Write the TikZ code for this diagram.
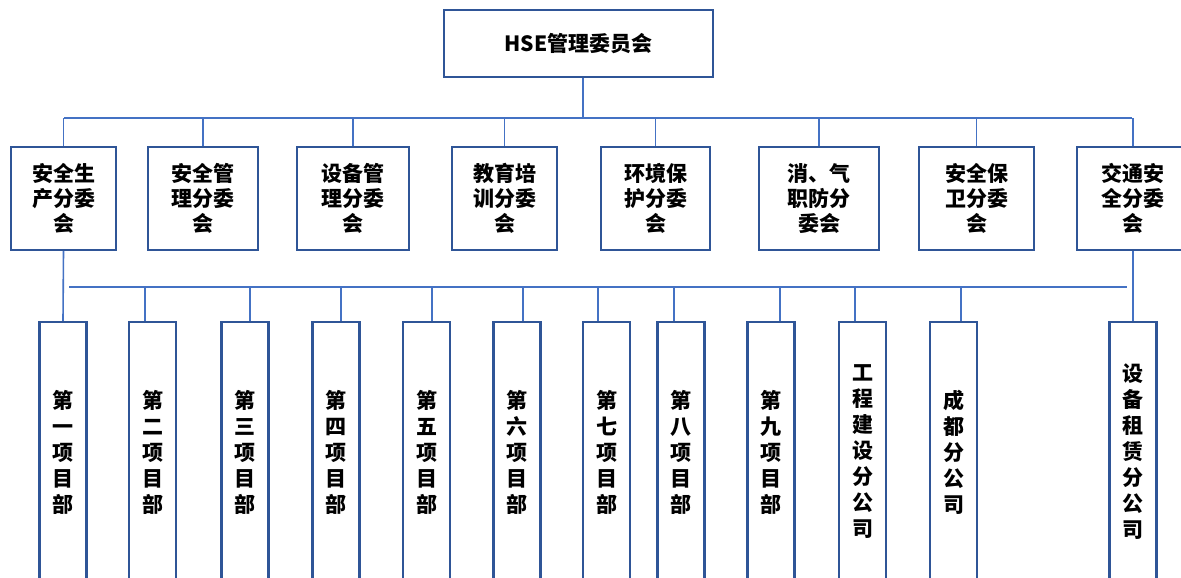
\documentclass[tikz,border=0pt]{standalone}
\usepackage{fontspec}
\setmainfont{Noto Sans CJK SC}
\definecolor{boxblue}{HTML}{2F5597}
\definecolor{lineblue}{HTML}{4472C4}
\begin{document}
\begin{tikzpicture}[x=1pt,y=-1pt,
  box/.style={draw=boxblue, line width=2.4pt, fill=white, inner sep=0pt, align=center,
    font=\bfseries\fontsize{21}{25}\selectfont},
  midbox/.style={box, minimum height=103pt},
  lowbox/.style={box, minimum width=47pt, minimum height=260pt,
    font=\bfseries\fontsize{21}{26}\selectfont},
  link/.style={draw=lineblue, line width=1.6pt}]
\clip (0,0) rectangle (1181,578);
\fill[white] (0,0) rectangle (1181,578);
% top
\node[box, minimum width=269pt, minimum height=67pt] (top) at (578.5,43.5) {HSE管理委员会};
% middle row
\node[midbox, minimum width=105pt] (m1) at (63.5,198.5) {安全生\\产分委\\会};
\node[midbox, minimum width=110pt] (m2) at (203,198.5) {安全管\\理分委\\会};
\node[midbox, minimum width=112pt] (m3) at (353,198.5) {设备管\\理分委\\会};
\node[midbox, minimum width=105pt] (m4) at (504.5,198.5) {教育培\\训分委\\会};
\node[midbox, minimum width=109pt] (m5) at (655.5,198.5) {环境保\\护分委\\会};
\node[midbox, minimum width=120pt] (m6) at (819,198.5) {消、气\\职防分\\委会};
\node[midbox, minimum width=115pt] (m7) at (976.5,198.5) {安全保\\卫分委\\会};
\node[midbox, minimum width=112pt] (m8) at (1133,198.5) {交通安\\全分委\\会};
% bottom row
\node[lowbox] (b1) at (63,452) {第\\一\\项\\目\\部};
\node[lowbox] (b2) at (152.5,452) {第\\二\\项\\目\\部};
\node[lowbox] (b3) at (245,452) {第\\三\\项\\目\\部};
\node[lowbox] (b4) at (336,452) {第\\四\\项\\目\\部};
\node[lowbox] (b5) at (426.5,452) {第\\五\\项\\目\\部};
\node[lowbox] (b6) at (517,452) {第\\六\\项\\目\\部};
\node[lowbox] (b7) at (606.5,452) {第\\七\\项\\目\\部};
\node[lowbox] (b8) at (681,452) {第\\八\\项\\目\\部};
\node[lowbox] (b9) at (771,452) {第\\九\\项\\目\\部};
\node[lowbox] (b10) at (862.5,452) {工\\程\\建\\设\\分\\公\\司};
\node[lowbox] (b11) at (953.5,452) {成\\都\\分\\公\\司};
\node[lowbox] (b12) at (1133,452) {设\\备\\租\\赁\\分\\公\\司};
% upper connectors
\coordinate (tc) at (583,118);
\coordinate (busL) at (64,118);
\coordinate (busR) at (1132,118);
\draw[link] (top.south -| tc) -- (tc);
\draw[link] (busL) -- (busR);
\foreach \i in {1,...,8} {\draw[link] (m\i.north) -- (m\i.north |- busL);}
% lower connectors
\coordinate (lbL) at (69,287);
\coordinate (lbR) at (1127,287);
\draw[link] (lbL) -- (lbR);
\draw[link] (m1.south) -- (b1.north);
\draw[link] (m8.south) -- (b12.north);
\foreach \i/\x in {2/145,3/250,4/341,5/432,6/523,7/598,8/674,9/780,10/855,11/961}
  {\coordinate (c\i) at (\x,287); \draw[link] (c\i) -- (c\i |- b\i.north);}
\end{tikzpicture}
\end{document}
